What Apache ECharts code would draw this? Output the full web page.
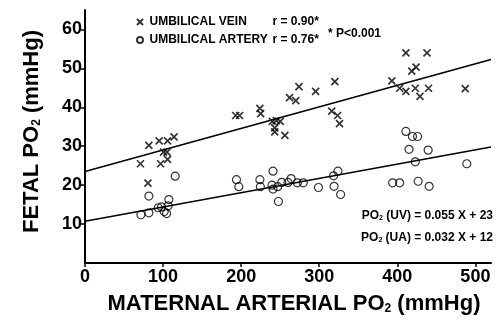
<!DOCTYPE html>
<html>
<head><meta charset="utf-8"></head>
<script type="text/javascript" src="https://cdn.jsdelivr.net/npm/echarts@6/dist/echarts.min.js"></script>
<body style="margin:0;background-color:white;">
<div id="main" style="width:500px;height:328px;"></div>
</body>
<script>
// umbilical vein (crosses)
var uvX = [71, 80.6, 81.8, 95, 96.8, 100.6, 105, 105.7, 105.7, 114,
    193, 198, 224, 225, 240, 245, 250, 243, 243, 256, 262, 270, 274, 295.4, 316, 320, 323.5, 326,
    393, 403, 411, 411, 418.5, 424, 423, 429, 438, 440, 487]
var uvY = [25.5, 20.5, 30.2, 31.4, 25.5, 28.5, 28.5, 31.4, 26.6, 32.4,
    37.9, 37.9, 39.7, 38.4, 36.4, 36.6, 36.4, 34.7, 33.7, 32.8, 42.5, 41.7, 45.3, 44.1, 39.0, 46.6, 37.9, 35.8,
    46.8, 44.9, 44.1, 54.0, 49.3, 50.3, 44.9, 42.8, 54.0, 44.9, 44.8]
// umbilical artery (circles)
var uaX = [71.6, 81.8, 81.8, 93.8, 98, 101.4, 104.5, 106.5, 107.4, 115.5,
    194, 197, 224, 224.6, 239.5, 240.8, 240.8, 246.8, 247.7, 252, 260, 264, 272, 279.5, 299, 318.4, 319, 324, 327.4,
    394, 403, 411, 415, 419.4, 426, 423, 426.7, 439.5, 440.8, 489]
var uaY = [12.4, 12.9, 17.2, 14.2, 14.4, 13.2, 12.7, 14.7, 16.3, 22.3,
    21.4, 19.6, 21.4, 19.6, 20.0, 19.0, 23.6, 19.6, 15.8, 20.7, 20.7, 21.7, 20.6, 20.6, 19.4, 22.4, 19.7, 23.6, 17.6,
    20.6, 20.6, 33.8, 29.2, 32.5, 32.5, 26.0, 21.0, 29.0, 19.7, 25.5]
// regression lines as drawn
var fitX = [0, 520]
var uvFit = [23.5, 52.3]
var uaFit = [10.7, 29.8]

var xTicks = [0, 100, 200, 300, 400, 500]
var yTicks = [10, 20, 30, 40, 50, 60]
var rValues = {'UMBILICAL VEIN': '0.90*', 'UMBILICAL ARTERY': '0.76*'}

function pairs(xs, ys){ return xs.map(function(x, i){ return [x, ys[i]]; }); }

var font = 'Liberation Sans, Arial, sans-serif'
var cross = 'path://M0,0L10,10M0,10L10,0'

var myChart = echarts.init(document.getElementById('main'));

var subStyle = function(big, small){
    return {
        a: {fontSize: big, fontWeight: 'bold', fontFamily: font, color: '#000'},
        s: {fontSize: small, fontWeight: 'bold', fontFamily: font, color: '#000', padding: [Math.round(big*0.45), 0, 0, 0]}
    }
}

var option = {
    animation: false,
    grid: {left: 85, right: 9, top: 10, bottom: 65, outerBoundsMode: 'none'},
    legend: {
        orient: 'vertical',
        left: 131, top: 11,
        itemWidth: 9, itemHeight: 6, itemGap: 6,
        selectedMode: false,
        data: [
            {name: 'UMBILICAL VEIN', icon: cross},
            {name: 'UMBILICAL ARTERY', icon: 'circle'}
        ],
        formatter: function(name){ return '{n|' + name + '}{r|r = ' + rValues[name] + '}'; },
        textStyle: {
            rich: {
                n: {fontSize: 12, fontWeight: 'bold', fontFamily: font, color: '#000', width: 123},
                r: {fontSize: 12, fontWeight: 'bold', fontFamily: font, color: '#000'}
            }
        }
    },
    xAxis: {
        type: 'value', min: 0, max: 520,
        name: '{a|MATERNAL ARTERIAL PO}{s|2}{a| (mmHg)}',
        nameLocation: 'middle', nameGap: 30,
        nameTextStyle: {rich: subStyle(22, 12), padding: [0, 0, 0, 12]},
        splitLine: {show: false},
        axisLine: {lineStyle: {color: '#000', width: 2}},
        axisTick: {customValues: xTicks, length: 4, lineStyle: {color: '#000', width: 1.5}},
        axisLabel: {customValues: xTicks, margin: 5, fontSize: 18, fontWeight: 'bold', fontFamily: font, color: '#000'}
    },
    yAxis: {
        type: 'value', min: 0, max: 65,
        name: '{a|FETAL PO}{s|2}{a| (mmHg)}',
        nameLocation: 'middle', nameGap: 42, nameRotate: 90,
        nameTextStyle: {rich: subStyle(22, 12), padding: [0, 0, 0, 10]},
        splitLine: {show: false},
        axisLine: {show: true, lineStyle: {color: '#000', width: 2}},
        axisTick: {show: true, customValues: yTicks, length: 4, lineStyle: {color: '#000', width: 1.5}},
        axisLabel: {customValues: yTicks, margin: 3, fontSize: 18, fontWeight: 'bold', fontFamily: font, color: '#000'}
    },
    graphic: [
        {type: 'text', left: 328, top: 28,
            style: {text: '* P<0.001', font: 'bold 12px ' + font, fill: '#000'}},
        {type: 'text', right: 7, top: 210,
            style: {text: '{a|PO}{s|2}{a| (UV) = 0.055 X + 23}', rich: subStyle(12, 7)}},
        {type: 'text', right: 7, top: 232,
            style: {text: '{a|PO}{s|2}{a| (UA) = 0.032 X + 12}', rich: subStyle(12, 7)}}
    ],
    series: [
        {
            name: 'UMBILICAL VEIN', type: 'scatter',
            symbol: cross, symbolSize: 7,
            itemStyle: {color: '#000', borderColor: '#000', borderWidth: 1.7},
            data: pairs(uvX, uvY)
        },
        {
            name: 'UMBILICAL ARTERY', type: 'scatter',
            symbol: 'circle', symbolSize: 8,
            itemStyle: {color: 'rgba(0,0,0,0)', borderColor: '#000', borderWidth: 1.2},
            data: pairs(uaX, uaY)
        },
        {
            type: 'line', showSymbol: false, silent: true,
            lineStyle: {color: '#000', width: 1.5},
            data: pairs(fitX, uvFit)
        },
        {
            type: 'line', showSymbol: false, silent: true,
            lineStyle: {color: '#000', width: 1.5},
            data: pairs(fitX, uaFit)
        }
    ]
}

option && myChart.setOption(option);
</script>
</html>
